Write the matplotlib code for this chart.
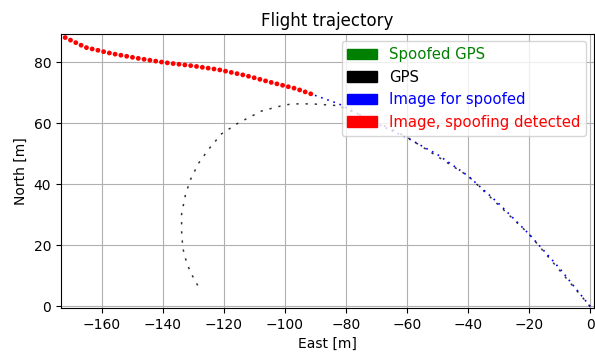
import matplotlib.pyplot as plt
from matplotlib.patches import Patch

# GPS track (black dotted)
gps_east = [0, -20, -40, -60, -70, -82.3, -91.1, -97.7, -101.0, -107.5, -115.1, -120.7,
            -124.9, -128.2, -130.8, -132.5, -133.8, -133.8, -133.4, -132.1, -130.5, -128.2]
gps_north = [0, 23.7, 42.8, 55.5, 60.5, 65.8, 66.4, 66.4, 65.8, 64.1, 60.2, 56.6,
             51.6, 47.0, 41.8, 36.8, 30.3, 24.7, 19.1, 14.1, 10.5, 6.3]

# image based position, before spoofing detected (blue)
img_east = [0, -10, -20, -30, -40, -50, -60, -70, -82.3, -91.5]
img_north = [0, 12.5, 23.7, 33.8, 42.8, 49.8, 55.3, 60.0, 66.4, 69.7]

# image based position, spoofing detected (red)
det_east = [-91.5, -96.4, -104.3, -112.8, -121.6, -130.5, -139.0, -147.9, -156.7, -165.2, -173.3]
det_north = [69.7, 71.4, 73.4, 75.7, 77.6, 78.9, 79.9, 81.3, 82.9, 84.9, 88.8]

labels = ['Spoofed GPS', 'GPS', 'Image for spoofed', 'Image, spoofing detected']
colors = ['green', 'black', 'blue', 'red']

fig = plt.figure(figsize=(5.95, 3.55), dpi=100)
ax = fig.add_axes([0.1025, 0.1324, 0.8955, 0.7718])

ax.plot(gps_east, gps_north, color='k', lw=1.1, linestyle=(0, (1.5, 4.5)), alpha=0.8)
ax.plot(img_east, img_north, color='blue', lw=1.2, linestyle=(0, (1, 2.9)))
ax.plot(det_east, det_north, color='red', lw=3.5, linestyle=(0, (0.01, 1.2)),
        dash_capstyle='round')

ax.set_xlim(-173.3, 1.2)
ax.set_ylim(-0.5, 89.3)
ax.set_xticks([-160, -140, -120, -100, -80, -60, -40, -20, 0])
ax.set_yticks([0, 20, 40, 60, 80])
ax.grid(True)
ax.set_title('Flight trajectory')
ax.set_xlabel('East [m]')
ax.set_ylabel('North [m]')

handles = [Patch(color=c) for c in colors]
leg = ax.legend(handles, labels, loc='upper right', fontsize=10.7)
for txt, c in zip(leg.get_texts(), colors):
    txt.set_color(c)

fig.savefig('out.png', dpi=100)
